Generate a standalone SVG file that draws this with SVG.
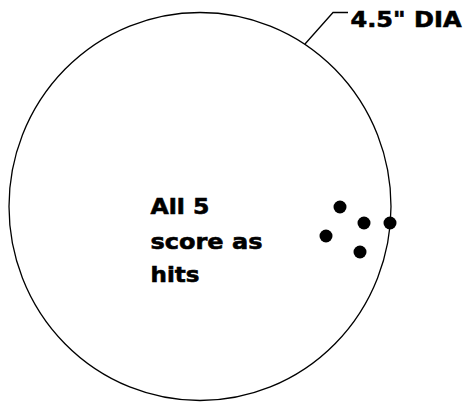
<svg xmlns="http://www.w3.org/2000/svg" width="466" height="402" viewBox="0 0 466 402">
<style>
.outline{fill:none;stroke:#000;stroke-width:1.3}
.dot{fill:#000}
.lbl{font-family:"DejaVu Sans","Liberation Sans",sans-serif;font-weight:bold;font-size:22px;fill:#000;stroke:#000;stroke-width:0.6}
</style>
<rect width="466" height="402" fill="#fff"/>
<g id="target">
<ellipse class="outline" cx="200" cy="206.5" rx="191" ry="194"/>
</g>
<g id="hits">
<circle class="dot" cx="340" cy="207" r="6.5"/>
<circle class="dot" cx="364" cy="223" r="6.5"/>
<circle class="dot" cx="390" cy="223" r="6.5"/>
<circle class="dot" cx="326" cy="236" r="6.5"/>
<circle class="dot" cx="360" cy="252" r="6.5"/>
</g>
<g id="note">
<text class="lbl" x="150.5" y="214" textLength="59" lengthAdjust="spacingAndGlyphs">All 5</text>
<text class="lbl" x="150.5" y="249" textLength="112" lengthAdjust="spacingAndGlyphs">score as</text>
<text class="lbl" x="150.5" y="282" textLength="49" lengthAdjust="spacingAndGlyphs">hits</text>
</g>
<g id="connectors">
<polyline class="outline" points="348,12.5 333,12.5 305,44"/>
</g>
<g id="dim-label">
<text class="lbl" x="350.5" y="27" textLength="111" lengthAdjust="spacingAndGlyphs">4.5" DIA</text>
</g>
</svg>
